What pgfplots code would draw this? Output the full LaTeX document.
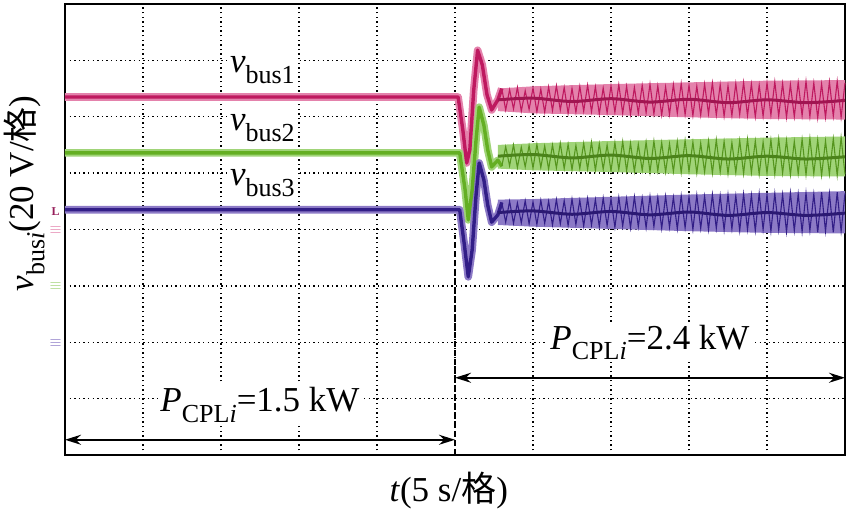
\documentclass[border=0pt]{standalone}
\usepackage{pgfplots}
\usepackage{pgfplotstable}
\pgfplotsset{compat=1.18}
\usetikzlibrary{arrows.meta}
\usepackage{fontspec}
\setmainfont{Liberation Serif}
\newfontfamily\cjk{Noto Sans CJK SC}
\definecolor{pinkD}{RGB}{190,25,95}
\definecolor{pinkL}{RGB}{228,130,172}
\definecolor{greenD}{RGB}{100,175,35}
\definecolor{greenL}{RGB}{160,212,120}
\definecolor{blueD}{RGB}{50,30,135}
\definecolor{blueL}{RGB}{140,122,198}
\definecolor{markM}{RGB}{150,30,90}
\newcommand{\sbs}[1]{\raisebox{-0.30em}{\fontsize{13}{13}\selectfont #1}}
\newcommand{\lab}{\fontsize{17.5}{20}\selectfont}

\pgfplotstableread{
x y
0 6.35
5.04 6.35
5.10 5.77
5.15 5.18
5.19 5.41
5.24 6.47
5.29 7.18
5.35 6.92
5.41 6.39
5.47 6.12
5.55 6.30
5.60 6.50
}\busoneT
\pgfplotstableread{
x y
0 5.36
5.06 5.36
5.13 4.70
5.17 4.17
5.22 4.70
5.27 5.59
5.31 6.17
5.37 5.85
5.42 5.41
5.47 5.11
5.55 5.23
5.60 5.12
}\bustwoT
\pgfplotstableread{
x y
0 4.35
5.06 4.35
5.12 3.73
5.17 3.16
5.22 3.64
5.27 4.61
5.31 5.18
5.37 4.88
5.42 4.43
5.47 4.13
5.55 4.26
5.60 4.48
}\busthreeT

\pgfplotstableread{
x a b c
5.60 6.50 5.12 4.48
5.65 6.12 5.47 4.13
5.70 6.48 5.13 4.50
5.75 6.14 5.50 4.11
5.80 6.52 5.10 4.47
5.85 6.10 5.46 4.12
5.90 6.46 5.11 4.51
5.95 6.13 5.49 4.10
6.00 6.51 5.09 4.49
6.05 6.09 5.51 4.09
6.10 6.49 5.10 4.52
6.15 6.08 5.48 4.11
6.20 6.53 5.07 4.50
6.25 6.11 5.50 4.08
6.30 6.55 5.09 4.53
6.35 6.12 5.53 4.10
6.40 6.52 5.08 4.51
6.45 6.06 5.51 4.07
6.50 6.50 5.06 4.54
6.55 6.08 5.49 4.09
6.60 6.54 5.08 4.52
6.65 6.10 5.53 4.06
6.70 6.56 5.07 4.55
6.75 6.09 5.55 4.08
6.80 6.53 5.05 4.53
6.85 6.05 5.52 4.05
6.90 6.51 5.07 4.56
6.95 6.07 5.50 4.07
7.00 6.55 5.04 4.54
7.05 6.08 5.54 4.04
7.10 6.57 5.06 4.57
7.15 6.06 5.56 4.06
7.20 6.54 5.04 4.55
7.25 6.04 5.53 4.03
7.30 6.52 5.03 4.58
7.35 6.06 5.51 4.05
7.40 6.56 5.05 4.56
7.45 6.07 5.55 4.03
7.50 6.58 5.02 4.59
7.55 6.05 5.57 4.05
7.60 6.55 5.04 4.57
7.65 6.03 5.54 4.02
7.70 6.53 5.02 4.59
7.75 6.04 5.52 4.04
7.80 6.57 5.03 4.57
7.85 6.06 5.56 4.01
7.90 6.59 5.01 4.60
7.95 6.04 5.58 4.03
8.00 6.56 5.03 4.58
8.05 6.02 5.55 4.00
8.10 6.54 5.00 4.61
8.15 6.03 5.53 4.02
8.20 6.58 5.02 4.59
8.25 6.05 5.57 4.00
8.30 6.60 5.00 4.62
8.35 6.03 5.59 4.02
8.40 6.57 5.02 4.60
8.45 6.01 5.56 3.99
8.50 6.55 4.99 4.62
8.55 6.02 5.54 4.01
8.60 6.59 5.01 4.60
8.65 6.04 5.58 3.98
8.70 6.61 4.99 4.63
8.75 6.02 5.60 4.00
8.80 6.58 5.01 4.61
8.85 6.00 5.57 3.98
8.90 6.56 4.98 4.64
8.95 6.01 5.55 4.00
9.00 6.60 5.00 4.62
9.05 6.03 5.59 3.97
9.10 6.62 4.98 4.64
9.15 6.01 5.61 3.99
9.20 6.59 5.00 4.62
9.25 5.99 5.58 3.96
9.30 6.57 4.97 4.65
9.35 6.00 5.56 3.98
9.40 6.61 4.99 4.63
9.45 6.02 5.60 3.96
9.50 6.63 4.97 4.65
9.55 6.00 5.62 3.98
9.60 6.60 4.99 4.63
9.65 5.98 5.59 3.95
9.70 6.58 4.96 4.66
9.75 5.99 5.57 3.97
9.80 6.62 4.98 4.64
9.85 6.01 5.61 3.95
9.90 6.63 4.96 4.66
9.95 5.99 5.63 3.97
10.00 6.60 4.98 4.64
}\noise

\begin{document}
\begin{tikzpicture}
\begin{axis}[
  scale only axis, width=390pt, height=225.5pt,
  xmin=0, xmax=10, ymin=0, ymax=8,
  xtick={1,2,3,4,5,6,7,8,9}, ytick={1,2,3,4,5,6,7},
  xticklabels={}, yticklabels={},
  major tick length=0pt,
  grid=major,
  major grid style={black, line width=0.7pt, dash pattern=on 0.7pt off 1.6pt},
  axis line style={line width=1pt},
  clip=false,
  xlabel={\textit{t}(5 s/{\cjk 格})},
  ylabel={\textit{v}\sbs{bus\textit{i}}(20 V/{\cjk 格})},
  label style={font=\lab},
  xlabel style={at={(axis description cs:0.492,-0.078)}, anchor=center},
  ylabel style={at={(axis description cs:-0.052,0.58)}, anchor=center},
]
% light envelopes of the oscillating part
\addplot[fill=pinkL, draw=none] coordinates {(5.55,6.50) (6,6.54) (7,6.58) (8,6.61) (9,6.64) (10,6.65) (10,5.95) (9,5.96) (8,5.99) (7,6.03) (6,6.06) (5.55,6.10)} -- cycle;
\addplot[fill=greenL, draw=none] coordinates {(5.55,5.50) (6,5.53) (7,5.57) (8,5.60) (9,5.63) (10,5.65) (10,4.94) (9,4.95) (8,4.98) (7,5.02) (6,5.05) (5.55,5.08)} -- cycle;
\addplot[fill=blueL, draw=none] coordinates {(5.55,4.53) (6,4.54) (7,4.58) (8,4.62) (9,4.65) (10,4.68) (10,3.93) (9,3.94) (8,3.97) (7,4.01) (6,4.05) (5.55,4.08)} -- cycle;
% light halos of the transient
\addplot[pinkL, line width=3.8pt, line join=round] table[x=x,y=y] {\busoneT};
\addplot[greenL, line width=3.8pt, line join=round] table[x=x,y=y] {\bustwoT};
\addplot[blueL, line width=3.8pt, line join=round] table[x=x,y=y] {\busthreeT};
% dark traces
\addplot[pinkD, line width=1.7pt, line join=round] table[x=x,y=y] {\busoneT};
\addplot[greenD, line width=1.7pt, line join=round] table[x=x,y=y] {\bustwoT};
\addplot[blueD, line width=1.7pt, line join=round] table[x=x,y=y] {\busthreeT};
\addplot[pinkD, line width=0.55pt] table[x=x,y=a] {\noise};
\addplot[greenD!85!black, line width=0.55pt] table[x=x,y=b] {\noise};
\addplot[blueD, line width=0.55pt] table[x=x,y=c] {\noise};
% darker wavy core
\addplot[pinkD!85!black, line width=1.5pt, smooth] coordinates {(5.55,6.30) (6.0,6.33) (6.5,6.27) (7.0,6.32) (7.5,6.26) (8,6.31) (8.5,6.25) (9,6.30) (9.5,6.25) (10,6.29)};
\addplot[greenD!75!black, line width=1.5pt, smooth] coordinates {(5.55,5.30) (6.0,5.33) (6.5,5.27) (7.0,5.32) (7.5,5.26) (8,5.31) (8.5,5.25) (9,5.30) (9.5,5.25) (10,5.29)};
\addplot[blueD!85!black, line width=1.5pt, smooth] coordinates {(5.55,4.30) (6.0,4.33) (6.5,4.27) (7.0,4.32) (7.5,4.26) (8,4.31) (8.5,4.25) (9,4.30) (9.5,4.25) (10,4.29)};

% annotations
\draw[black, line width=0.8pt, dash pattern=on 3pt off 1.5pt] (axis cs:5,0) -- (axis cs:5,3.9);
\draw[line width=0.8pt, {Stealth[length=8pt,width=5pt]}-{Stealth[length=8pt,width=5pt]}] (axis cs:0,0.27) -- (axis cs:5,0.27);
\draw[line width=0.8pt, {Stealth[length=8pt,width=5pt]}-{Stealth[length=8pt,width=5pt]}] (axis cs:5,1.37) -- (axis cs:10,1.37);
\node[fill=white, inner sep=1pt, font=\lab] at (axis cs:2.5,0.89) {\textit{P}\sbs{CPL\textit{i}}=1.5 kW};
\node[fill=white, inner sep=1pt, font=\lab] at (axis cs:7.5,2.0) {\textit{P}\sbs{CPL\textit{i}}=2.4 kW};
\node[fill=white, inner sep=1pt, font=\lab] at (axis cs:2.53,6.83) {\textit{v}\sbs{bus1}};
\node[fill=white, inner sep=1pt, font=\lab] at (axis cs:2.53,5.80) {\textit{v}\sbs{bus2}};
\node[fill=white, inner sep=1pt, font=\lab] at (axis cs:2.53,4.82) {\textit{v}\sbs{bus3}};
% oscilloscope channel markers
\node[text=markM, font=\fontsize{6}{6}\selectfont\bfseries, inner sep=0pt] at (axis cs:-0.12,4.31) {L};
\node[text=pinkL, font=\fontsize{7}{7}\selectfont, inner sep=0pt] at (axis cs:-0.12,3.99) {$\equiv$};
\node[text=greenL, font=\fontsize{7}{7}\selectfont, inner sep=0pt] at (axis cs:-0.12,3.00) {$\equiv$};
\node[text=blueL, font=\fontsize{7}{7}\selectfont, inner sep=0pt] at (axis cs:-0.12,1.99) {$\equiv$};
\end{axis}
\pgfresetboundingbox
\path[use as bounding box] ([xshift=-32.5pt,yshift=-29.5pt]current axis.south west) rectangle ([xshift=0.5pt,yshift=2pt]current axis.north east);
\end{tikzpicture}
\end{document}
